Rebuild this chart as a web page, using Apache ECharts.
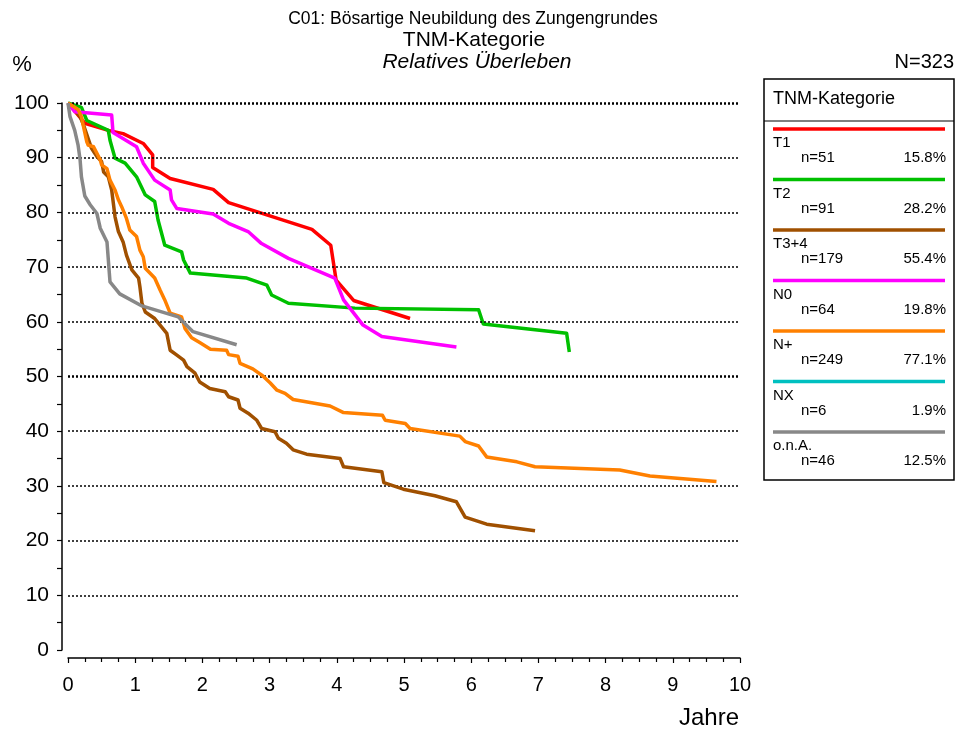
<!DOCTYPE html>
<html>
<head>
<meta charset="utf-8">
<script src="https://cdn.jsdelivr.net/npm/echarts@6/dist/echarts.min.js"></script>
<style>html,body{margin:0;padding:0;background:#fff}#c{width:957px;height:731px}</style>
</head>
<body>
<div id="c"></div>
<script>
// ---- data ----
var titleLines = ['C01: Bösartige Neubildung des Zungengrundes', 'TNM-Kategorie', 'Relatives Überleben'];
var totalN = 'N=323';
var xTicks = [0,1,2,3,4,5,6,7,8,9,10];
var yTicks = [0,10,20,30,40,50,60,70,80,90,100];
var gridValues = [10,20,30,40,60,70,80,90];
var boldLines = [50, 100];

var seriesNames = ['T1', 'T2', 'T3+4', 'N0', 'N+', 'NX', 'o.n.A.'];
var seriesN = ['n=51', 'n=91', 'n=179', 'n=64', 'n=249', 'n=6', 'n=46'];
var seriesPct = ['15.8%', '28.2%', '55.4%', '19.8%', '77.1%', '1.9%', '12.5%'];
var seriesColors = ['#ff0000', '#00c000', '#a05000', '#ff00ff', '#ff8000', '#00c0c0', '#888888'];

var dataT1 = [[0,100],[0.25,96.3],[0.6,95],[0.82,94.4],[1.12,92.6],[1.26,90.5],[1.26,88.2],[1.52,86.2],[2.16,84.2],[2.39,81.8],[3.63,76.9],[3.91,74],[3.99,67.6],[4.25,63.9],[5.09,60.6]];
var dataT2 = [[0,100],[0.2,99.2],[0.28,96.8],[0.6,95],[0.625,93.2],[0.7,89.9],[0.85,89],[1.02,86.5],[1.15,83.2],[1.29,82],[1.34,78.6],[1.44,74],[1.69,72.8],[1.72,71.3],[1.82,68.9],[2.66,68],[2.96,66.7],[3.03,64.9],[3.28,63.4],[4.27,62.5],[6.11,62.2],[6.18,59.6],[7.42,57.9],[7.46,54.5]];
var dataT34 = [[0,100],[0.1,98.7],[0.18,97.5],[0.23,96],[0.3,93.5],[0.35,91.7],[0.43,90.2],[0.5,89.3],[0.53,87.4],[0.6,86.5],[0.65,84.1],[0.7,79.2],[0.75,76.5],[0.82,74.6],[0.87,72.2],[0.95,69.5],[1.05,68],[1.07,66.4],[1.1,63.4],[1.15,61.8],[1.29,60.6],[1.37,59.4],[1.47,57.9],[1.52,54.8],[1.62,53.9],[1.72,53],[1.77,51.8],[1.89,50.6],[1.96,49],[2.11,47.8],[2.34,47.2],[2.39,46.3],[2.53,45.7],[2.56,44.2],[2.68,43.3],[2.81,42],[2.88,40.5],[3.08,39.9],[3.13,38.7],[3.25,37.8],[3.35,36.6],[3.55,35.8],[4.05,35],[4.1,33.5],[4.67,32.6],[4.7,30.6],[4.99,29.4],[5.46,28.2],[5.78,27.1],[5.91,24.3],[6.23,23],[6.95,21.8]];
var dataN0 = [[0,100],[0.1,98.4],[0.65,97.8],[0.67,94.6],[1.02,92],[1.12,89],[1.29,85.9],[1.52,84.1],[1.54,82.3],[1.62,80.7],[2.16,79.7],[2.39,78],[2.68,76.5],[2.88,74.3],[3.28,71.6],[3.97,68],[4.1,64],[4.39,59.4],[4.67,57.3],[5.78,55.4]];
var dataNplus = [[0,100],[0.15,98.8],[0.2,97.5],[0.23,95.7],[0.28,92.9],[0.3,92.3],[0.38,92],[0.43,90.8],[0.48,89.6],[0.5,88.7],[0.58,88],[0.625,85.9],[0.7,84.1],[0.75,82.3],[0.8,81],[0.87,78.9],[0.92,76.8],[1.02,75.6],[1.07,73.1],[1.12,71.9],[1.15,69.8],[1.29,68],[1.37,65.8],[1.44,64],[1.52,61.6],[1.69,60.9],[1.74,58.8],[1.84,57.1],[1.96,56.2],[2.12,55],[2.36,54.8],[2.39,54],[2.53,53.7],[2.56,52.4],[2.75,51.4],[2.9,50.1],[3.01,48.8],[3.11,47.5],[3.23,46.9],[3.35,45.8],[3.9,44.6],[4.1,43.4],[4.68,42.9],[4.72,42],[5.02,41.4],[5.09,40.5],[5.83,39.1],[5.91,38.1],[6.11,37.3],[6.23,35.3],[6.68,34.4],[6.95,33.5],[8.21,32.9],[8.66,31.8],[9.65,30.8]];
var dataNX = [];
var dataOnA = [[0,100],[0.03,97.5],[0.1,95],[0.15,92.3],[0.18,89.6],[0.2,86.5],[0.25,83],[0.33,81.4],[0.43,79.8],[0.48,77.1],[0.58,74.6],[0.625,67.3],[0.77,65.1],[1.1,62.9],[1.64,60.9],[1.86,58.2],[2.51,55.8]];

var seriesData = [dataT1, dataT2, dataT34, dataN0, dataNplus, dataNX, dataOnA];

// ---- chart ----
var FONT = '"Liberation Sans", Arial, sans-serif';
var chart = echarts.init(document.getElementById('c'), null, {renderer: 'canvas'});

var series = seriesData.map(function (d, i) {
  return {
    name: seriesNames[i], type: 'line', data: d, showSymbol: false, symbol: 'none',
    lineStyle: {color: seriesColors[i], width: 3.5, join: 'round'},
    itemStyle: {color: seriesColors[i]}, animation: false, z: 3 + i
  };
});
series.push({
  type: 'line', data: [], silent: true, animation: false,
  markLine: {
    symbol: 'none', silent: true, label: {show: false},
    lineStyle: {color: '#000', width: 1.5, type: [2, 2]},
    data: gridValues.map(function (v) { return {yAxis: v}; })
      .concat(boldLines.map(function (v) { return {yAxis: v, lineStyle: {width: 2.5, color: '#000', type: [2, 2]}}; }))
  }, z: 2
});

var graphics = [];
function txt(text, x, y, size, opts) {
  opts = opts || {};
  graphics.push({
    type: 'text', x: x, y: y, z: 10,
    style: {
      text: text, fill: '#000',
      font: (opts.italic ? 'italic ' : '') + size + 'px ' + FONT,
      textAlign: opts.align || 'left', textVerticalAlign: 'middle'
    }
  });
}
txt(titleLines[0], 473, 19, 17.5, {align: 'center'});
txt(titleLines[1], 474, 40, 21, {align: 'center'});
txt(titleLines[2], 477, 62, 21, {align: 'center', italic: true});
txt('%', 22, 65, 22, {align: 'center'});
txt(totalN, 954, 62, 20, {align: 'right'});
txt('Jahre', 709, 718, 24, {align: 'center'});

// legend box
graphics.push({type: 'rect', z: 9, shape: {x: 764, y: 79, width: 190, height: 401},
  style: {fill: '#fff', stroke: '#000', lineWidth: 1.5}});
graphics.push({type: 'line', z: 10, shape: {x1: 764, y1: 121, x2: 954, y2: 121},
  style: {stroke: '#000', lineWidth: 1.2}});
txt('TNM-Kategorie', 773, 99, 18);
seriesNames.forEach(function (name, i) {
  var y0 = 129 + i * 50.5;
  graphics.push({type: 'line', z: 10, shape: {x1: 773, y1: y0, x2: 945, y2: y0},
    style: {stroke: seriesColors[i], lineWidth: 3.5}});
  txt(name, 773, y0 + 14, 15);
  txt(seriesN[i], 801, y0 + 29, 15);
  txt(seriesPct[i], 946, y0 + 29, 15, {align: 'right'});
});

chart.setOption({
  animation: false,
  backgroundColor: '#fff',
  grid: {left: 68, right: 217, top: 103, bottom: 81, containLabel: false},
  xAxis: {
    type: 'value', min: xTicks[0], max: xTicks[xTicks.length - 1], interval: 1, offset: 8,
    axisLine: {show: true, onZero: false, lineStyle: {color: '#000', width: 1.5}},
    axisTick: {show: true, inside: false, length: 5, lineStyle: {color: '#000', width: 1.2}},
    minorTick: {show: true, splitNumber: 4, length: 4, lineStyle: {color: '#000', width: 1.2}},
    axisLabel: {color: '#000', fontSize: 20, fontFamily: FONT, margin: 17},
    splitLine: {show: false}
  },
  yAxis: {
    type: 'value', min: yTicks[0], max: yTicks[yTicks.length - 1], interval: 10, offset: 6,
    axisLine: {show: true, onZero: false, lineStyle: {color: '#000', width: 1.5}},
    axisTick: {show: true, inside: false, length: 5, lineStyle: {color: '#000', width: 1.2}},
    minorTick: {show: true, splitNumber: 2, length: 5, lineStyle: {color: '#000', width: 1.2}},
    axisLabel: {color: '#000', fontSize: 21, fontFamily: FONT, margin: 13},
    splitLine: {show: false}
  },
  series: series,
  graphic: graphics
});
</script>
</body>
</html>
